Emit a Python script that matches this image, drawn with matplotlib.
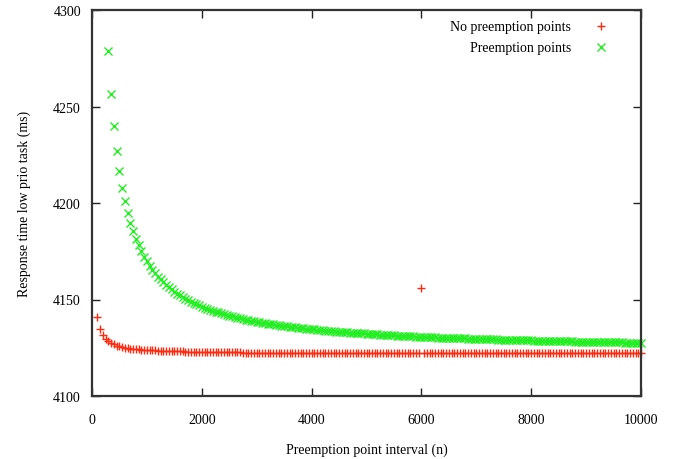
import matplotlib
matplotlib.use("Agg")
import matplotlib.pyplot as plt

plt.rcParams['font.family'] = ['Liberation Serif', 'DejaVu Serif']

# x grid: every 50 from 100 (no pp) / 300 (pp) up to 10000
x_no_pp = list(range(100, 10001, 50))
x_pp = list(range(300, 10001, 50))

# response time without preemption points (ms)
y_no_pp = ([4141.0, 4134.6, 4131.5, 4129.5, 4128.3, 4127.4, 4126.7, 4126.1, 4125.7, 4125.4,
            4125.1, 4124.8, 4124.6, 4124.5, 4124.3, 4124.1, 4124.0, 4123.9, 4123.8, 4123.7,
            4123.6, 4123.6, 4123.5, 4123.4, 4123.4, 4123.3, 4123.3, 4123.2, 4123.2, 4123.1,
            4123.1, 4123.1, 4123.0, 4123.0, 4123.0, 4122.9, 4122.9, 4122.9, 4122.9]
           + [4122.7] * 14 + [4122.5] * 22 + [4122.3] * 43
           + [4156.0]
           + [4122.1] * 80)

# response time with preemption points (ms)
y_pp = [4279.0, 4256.7, 4240.0, 4227.0, 4216.6, 4208.0, 4201.0, 4195.0, 4189.8, 4185.3,
        4181.4, 4178.0, 4174.9, 4172.2, 4169.7, 4167.5, 4165.5, 4163.6, 4161.9, 4160.4,
        4158.9, 4157.6, 4156.4, 4155.2, 4154.1, 4153.1, 4152.2, 4151.3, 4150.4, 4149.7,
        4148.9, 4148.2, 4147.5, 4146.9, 4146.3, 4145.7, 4145.2, 4144.7, 4144.2, 4143.7,
        4143.3, 4142.8, 4142.4, 4142.0, 4141.6, 4141.3, 4140.9, 4140.6, 4140.2, 4139.9,
        4139.6, 4139.3, 4139.1, 4138.8, 4138.5, 4138.3, 4138.0, 4137.8, 4137.5, 4137.3,
        4137.1, 4136.9, 4136.7, 4136.5, 4136.3, 4136.1, 4135.9, 4135.7, 4135.6, 4135.4,
        4135.2, 4135.1, 4134.9, 4134.8, 4134.6, 4134.5, 4134.3, 4134.2, 4134.1, 4133.9,
        4133.8, 4133.7, 4133.5, 4133.4, 4133.3, 4133.2, 4133.1, 4133.0, 4132.9, 4132.8,
        4132.7, 4132.6, 4132.5, 4132.4, 4132.3, 4132.2, 4132.1, 4132.0, 4131.9, 4131.8,
        4131.7, 4131.7, 4131.6, 4131.5, 4131.4, 4131.3, 4131.3, 4131.2, 4131.1, 4131.0,
        4131.0, 4130.9, 4130.8, 4130.8, 4130.7, 4130.6, 4130.6, 4130.5, 4130.5, 4130.4,
        4130.3, 4130.3, 4130.2, 4130.2, 4130.1, 4130.1, 4130.0, 4129.9, 4129.9, 4129.8,
        4129.8, 4129.7, 4129.7, 4129.6, 4129.6, 4129.5, 4129.5, 4129.4, 4129.4, 4129.4,
        4129.3, 4129.3, 4129.2, 4129.2, 4129.1, 4129.1, 4129.1, 4129.0, 4129.0, 4128.9,
        4128.9, 4128.9, 4128.8, 4128.8, 4128.8, 4128.7, 4128.7, 4128.6, 4128.6, 4128.6,
        4128.5, 4128.5, 4128.5, 4128.4, 4128.4, 4128.4, 4128.3, 4128.3, 4128.3, 4128.3,
        4128.2, 4128.2, 4128.2, 4128.1, 4128.1, 4128.1, 4128.0, 4128.0, 4128.0, 4128.0,
        4127.9, 4127.9, 4127.9, 4127.9, 4127.8, 4127.8, 4127.8, 4127.8, 4127.7, 4127.7,
        4127.7, 4127.7, 4127.6, 4127.6, 4127.6]

labels = ['No preemption points', 'Preemption points']
colors = ['#ff2a10', '#22ee22']
markers = ['+', 'x']

fig = plt.figure(figsize=(6.8, 4.6), dpi=100)
ax = fig.add_axes([92/680, 1-397/460, (641-92)/680, (397-11)/460])

ax.plot(x_no_pp, y_no_pp, linestyle='none', marker=markers[0], ms=6, mew=1,
        color=colors[0], clip_on=False)
ax.plot(x_pp, y_pp, linestyle='none', marker=markers[1], ms=6, mew=1,
        color=colors[1], clip_on=False)

ax.set_xlim(0, 10000)
ax.set_ylim(4100, 4300)
ax.set_xticks([0, 2000, 4000, 6000, 8000, 10000])
ax.set_yticks([4100, 4150, 4200, 4250, 4300])
ax.tick_params(direction='in', length=6, width=1, top=True, right=True,
               labelsize=10, color='#222222')
ax.tick_params(axis='x', pad=12)
ax.tick_params(axis='y', pad=8)
for s in ax.spines.values():
    s.set_linewidth(1.6)
    s.set_color('#333333')

ax.set_xlabel('Preemption point interval (n)', fontsize=10, labelpad=12)
ax.set_ylabel('Response time low prio task (ms)', fontsize=10, labelpad=16)

# gnuplot-style key: right-aligned text, sample marker to its right
for i, (lab, c, m) in enumerate(zip(labels, colors, markers)):
    yk = 0.9585 - i * 0.0545
    ax.text(0.8725, yk, lab, transform=ax.transAxes, ha='right', va='center', fontsize=10)
    ax.plot([0.927], [yk], linestyle='none', marker=m, ms=6, mew=1, color=c,
            transform=ax.transAxes, clip_on=False)

fig.savefig('out.png', dpi=100)
